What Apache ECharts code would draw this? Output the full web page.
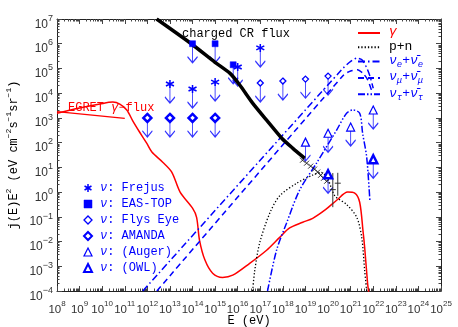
<!DOCTYPE html>
<html>
<head>
<meta charset="utf-8">
<script src="https://cdn.jsdelivr.net/npm/echarts@6/dist/echarts.min.js"></script>
<style>
html, body { margin: 0; padding: 0; background: #fff; }
#chart { width: 458px; height: 327px; }
</style>
</head>
<body>
<div id="chart"></div>
<script>
// all points are [log10 E (eV), log10 j(E)E^2]
const crFlux = [[12.41, 7.0], [13.96, 5.99], [14.98, 5.26], [15.65, 4.81], [16.09, 4.33],
  [16.66, 3.6], [17.28, 2.91], [17.95, 2.18], [18.43, 1.78], [18.96, 1.37]];
const crPoints = [[18.87, 1.29], [19.05, 1.17], [19.23, 1.05], [19.4, 0.93],
  [19.54, 0.81], [19.67, 0.68], [19.8, 0.56], [19.94, 0.44]];
// [logE, low, high, centre]
const crErrBars = [[20.21, -0.61, 0.77, 0.1], [20.43, -0.15, 0.78, 0.36]];

const gammaFlux = [[8.0, 3.19], [9.0, 3.4], [9.9, 3.56], [10.47, 3.64], [10.78, 3.56],
  [11.09, 3.32], [11.36, 2.87], [11.64, 2.45], [11.97, 1.98], [12.2, 1.62], [12.68, 1.21],
  [13.08, 0.81], [13.45, 0.0], [14.0, -0.65], [14.18, -1.02], [14.31, -1.95], [14.55, -2.75],
  [14.89, -3.28], [15.33, -3.45], [15.78, -3.36], [16.53, -2.88], [17.28, -2.35],
  [17.86, -1.83], [18.3, -1.45], [18.88, -1.22], [19.32, -1.06], [19.9, -0.7], [20.38, -0.33],
  [20.87, 0.0], [21.18, -0.04], [21.4, -0.41], [21.55, -1.6], [21.62, -2.23], [21.75, -3.69],
  [21.8, -4.05]];
const egretFlux = [[8.0, 3.25], [11.0, 2.98]];
const pnFlux = [[16.66, -4.0], [16.75, -3.2], [16.97, -2.07], [17.42, -0.85], [17.86, -0.15],
  [18.6, 0.35], [19.3, 0.68], [19.7, 0.8], [20.0, 0.5], [20.3, -0.15], [20.82, -0.5],
  [21.27, -1.02], [21.49, -1.83], [21.62, -3.16], [21.71, -4.0]];
const nueFlux = [[11.8, -4.0], [20.6, 4.95], [20.95, 5.25], [21.27, 5.42], [21.5, 5.35],
  [21.7, 5.05], [21.85, 4.7], [22.0, 4.2]];
const numuFlux = [[12.42, -4.0], [20.7, 4.75], [21.0, 4.9], [21.3, 4.95], [21.55, 4.8],
  [21.75, 4.55], [21.95, 4.05]];
const nutauFlux = [[17.32, -4.0], [17.72, -2.35], [18.16, -1.26], [18.74, 0.08], [19.49, 1.17],
  [20.38, 2.51], [20.82, 3.19], [21.09, 3.32], [21.4, 3.19], [21.53, 2.38], [21.71, 1.41],
  [21.85, -0.33]];

// neutrino upper limits
const frejusLim = [[13, 4.37], [14, 4.17], [15, 4.45], [16, 5.06], [17, 5.83]];
const eastopLim = [[14, 6.0], [15, 6.0], [15.8, 5.15]];
const flysEyeLim = [[17, 4.41], [18, 4.49], [19, 4.57], [20, 4.69]];
const amandaLim = [[12, 3.0], [13, 3.0], [14, 3.0], [15, 3.0]];
const augerLim = [[19, 2.02], [20, 2.38], [21, 2.63], [22, 3.32]];
const owlLim = [[20, 0.72], [22, 1.33]];

const xExp = [8, 9, 10, 11, 12, 13, 14, 15, 16, 17, 18, 19, 20, 21, 22, 23, 24, 25];
const yExp = [-4, -3, -2, -1, 0, 1, 2, 3, 4, 5, 6, 7];

const BLUE = '#0000ff';
const MONO = 'Liberation Mono';
const SANS = 'Liberation Sans';

const toPts = arr => arr.map(p => [Math.pow(10, p[0]), Math.pow(10, p[1])]);
// the end values are nudged a hair inside the extent so they are not dropped
const majors = exps => exps.map((e, i) => Math.pow(10, e) * (i === exps.length - 1 ? 0.99999 : i === 0 ? 1.00001 : 1));
const minors = exps => {
  const out = [];
  exps.slice(0, -1).forEach(e => {
    for (let k = 2; k <= 9; k++) out.push(k * Math.pow(10, e));
  });
  return out;
};

const supLabel = v => {
  const e = Math.round(Math.log10(v));
  return '{b|10}{s|' + (e < 0 ? '\u2212' + (-e) : e) + '}';
};

function makeAxis(kind, pos, major) {
  const exps = kind === 'x' ? xExp : yExp;
  const isMain = major && (pos === 'bottom' || pos === 'left');
  const ax = {
    type: 'log',
    min: Math.pow(10, exps[0]),
    max: Math.pow(10, exps[exps.length - 1]),
    position: pos,
    axisLine: { show: major, onZero: false, lineStyle: { color: '#222', width: 1 } },
    axisTick: {
      show: true, inside: true, length: major ? 5 : 2.5,
      customValues: major ? majors(exps) : minors(exps),
      lineStyle: { color: '#444', width: 1 }
    },
    minorTick: { show: false },
    splitLine: { show: false },
    axisLabel: { show: false }
  };
  if (isMain) {
    if (kind === 'x') {
      ax.axisLabel = {
        show: true, customValues: majors(exps), margin: 9, formatter: supLabel,
        showMinLabel: true, showMaxLabel: true, hideOverlap: false,
        rich: {
          b: { fontFamily: SANS, fontSize: 11.5, color: '#333', lineHeight: 16, verticalAlign: 'bottom' },
          s: { fontFamily: SANS, fontSize: 8, color: '#333', lineHeight: 16, verticalAlign: 'top' }
        }
      };
      ax.name = 'E (eV)';
      ax.nameLocation = 'middle';
      ax.nameGap = 24;
      ax.nameMoveOverlap = false;
      ax.nameTextStyle = { fontFamily: MONO, fontSize: 12, color: '#000' };
    } else {
      ax.axisLabel = {
        show: true, customValues: majors(exps), margin: 4, formatter: supLabel,
        showMinLabel: true, showMaxLabel: true, hideOverlap: false,
        padding: [6, 0, 0, 0],
        rich: {
          b: { fontFamily: SANS, fontSize: 12, color: '#333', lineHeight: 16.5, verticalAlign: 'bottom' },
          s: { fontFamily: SANS, fontSize: 9, color: '#333', lineHeight: 16.5, verticalAlign: 'top' }
        }
      };
      ax.name = '{m|j(E)E}{p|2}{m| (eV cm}{p|\u22122}{m|s}{p|\u22121}{m|sr}{p|\u22121}{m|)}';
      ax.nameLocation = 'middle';
      ax.nameRotate = 90;
      ax.nameGap = 37;
      ax.nameMoveOverlap = false;
      ax.nameTextStyle = {
        rich: {
          m: { fontFamily: MONO, fontSize: 12, color: '#000', lineHeight: 15, verticalAlign: 'bottom' },
          p: { fontFamily: MONO, fontSize: 8, color: '#000', lineHeight: 15, verticalAlign: 'top' }
        }
      };
    }
  }
  return ax;
}

const asterisk = 'path://M5,0L5,10M0.67,2.5L9.33,7.5M0.67,7.5L9.33,2.5';
const arrowDown = 'path://M5,0L5,19M0,13L5,19L10,13';
const crossX = 'path://M0,0L10,10M10,0L0,10';

// marker look for each experiment
const limitSeries = [
  { name: 'Frejus', data: frejusLim, symbol: asterisk, size: 8, fill: 'transparent', bw: 1.5 },
  { name: 'EAS-TOP', data: eastopLim, symbol: 'rect', size: 6, fill: BLUE, bw: 0.5 },
  { name: 'Flys Eye', data: flysEyeLim, symbol: 'diamond', size: 6, fill: '#fff', bw: 1.3 },
  { name: 'AMANDA', data: amandaLim, symbol: 'diamond', size: 8, fill: '#fff', bw: 2.5 },
  { name: '(Auger)', data: augerLim, symbol: 'triangle', size: 8, fill: '#fff', bw: 1.2 },
  { name: '(OWL)', data: owlLim, symbol: 'triangle', size: 8, fill: '#fff', bw: 2.5 }
];

const lineLabels = {
  gamma: '{g|\u03b3}',
  pn: '{k|p+n}',
  nue: '{n|\u03bd}{sub|e}{t|+}{n|\u03bd\u0304}{sub|e}',
  numu: '{n|\u03bd}{sub|\u03bc}{t|+}{n|\u03bd\u0304}{sub|\u03bc}',
  nutau: '{n|\u03bd}{sub|\u03c4}{t|+}{n|\u03bd\u0304}{sub|\u03c4}'
};

const chart = echarts.init(document.getElementById('chart'), null, { renderer: 'canvas' });

const series = [
  {
    name: 'arrows', type: 'scatter', silent: true, z: 2,
    data: toPts([].concat(frejusLim, eastopLim, flysEyeLim, amandaLim, augerLim, owlLim)),
    symbol: arrowDown, symbolSize: [10, 19], symbolOffset: [0, 9.5],
    itemStyle: { color: 'transparent', borderColor: BLUE, borderWidth: 1.2 }
  },
  {
    name: 'gamma', type: 'line', data: toPts(gammaFlux), smooth: 0.3, symbol: 'none', z: 3,
    lineStyle: { color: '#ff0000', width: 1.5 }, itemStyle: { color: '#ff0000' }
  },
  {
    name: 'egret', type: 'line', data: toPts(egretFlux), symbol: 'none', z: 3,
    lineStyle: { color: '#ff0000', width: 1.3 }
  },
  {
    name: 'pn', type: 'line', data: toPts(pnFlux), smooth: 0.3, symbol: 'none', z: 3,
    lineStyle: { color: '#000', width: 1.3, type: [1.3, 2] }, itemStyle: { color: '#000' }
  },
  {
    name: 'nue', type: 'line', data: toPts(nueFlux), smooth: 0.2, symbol: 'none', z: 3,
    lineStyle: { color: BLUE, width: 1.5, type: [7, 3, 1.5, 3] }, itemStyle: { color: BLUE }
  },
  {
    name: 'numu', type: 'line', data: toPts(numuFlux), smooth: 0.2, symbol: 'none', z: 3,
    lineStyle: { color: BLUE, width: 1.5, type: [6, 4] }, itemStyle: { color: BLUE }
  },
  {
    name: 'nutau', type: 'line', data: toPts(nutauFlux), smooth: 0.3, symbol: 'none', z: 3,
    lineStyle: { color: BLUE, width: 1.5, type: [7, 2, 1.5, 2, 1.5, 2] }, itemStyle: { color: BLUE }
  },
  {
    name: 'cr', type: 'line', data: toPts(crFlux), smooth: 0.2, symbol: 'none', z: 4,
    lineStyle: { color: '#000', width: 3.5 }
  },
  {
    name: 'crdata', type: 'scatter', data: toPts(crPoints), symbol: crossX, symbolSize: 5, z: 4,
    itemStyle: { color: 'transparent', borderColor: '#000', borderWidth: 1 }
  },
  {
    name: 'errbars', type: 'custom', z: 4,
    data: crErrBars.map(d => [Math.pow(10, d[0]), Math.pow(10, d[1]), Math.pow(10, d[2]), Math.pow(10, d[3])]),
    renderItem: (params, api) => {
      const top = api.coord([api.value(0), api.value(2)]);
      const bot = api.coord([api.value(0), api.value(1)]);
      const mid = api.coord([api.value(0), api.value(3)]);
      return {
        type: 'group',
        children: [
          { type: 'line', shape: { x1: top[0], y1: top[1], x2: bot[0], y2: bot[1] }, style: { stroke: '#333', lineWidth: 1 } },
          { type: 'line', shape: { x1: mid[0] - 3, y1: mid[1], x2: mid[0] + 3, y2: mid[1] }, style: { stroke: '#333', lineWidth: 1 } }
        ]
      };
    }
  }
];

limitSeries.forEach(s => {
  series.push({
    name: s.name, type: 'scatter', data: toPts(s.data), z: 5,
    symbol: s.symbol, symbolSize: s.size,
    itemStyle: { color: s.fill, borderColor: BLUE, borderWidth: s.bw, opacity: 1 }
  });
});

const option = {
  backgroundColor: '#fff',
  animation: false,
  grid: { left: 57, right: 17, top: 19, bottom: 36, outerBoundsMode: 'none', containLabel: false },
  xAxis: [makeAxis('x', 'bottom', true), makeAxis('x', 'bottom', false),
    makeAxis('x', 'top', true), makeAxis('x', 'top', false)],
  yAxis: [makeAxis('y', 'left', true), makeAxis('y', 'left', false),
    makeAxis('y', 'right', true), makeAxis('y', 'right', false)],
  legend: [
    {
      orient: 'vertical', left: 83, top: 182, padding: 0,
      itemWidth: 8, itemHeight: 8, itemGap: 4.0,
      selectedMode: false,
      data: limitSeries.map(s => ({
        name: s.name, icon: s.symbol,
        itemStyle: { color: s.fill, borderColor: BLUE, borderWidth: Math.min(s.bw, 2) }
      })),
      formatter: name => '{i|\u03bd}{t|: ' + name + '}',
      textStyle: {
        padding: [0, 0, 0, 3],
        rich: {
          i: { fontFamily: MONO, fontSize: 12, fontStyle: 'italic', color: BLUE, lineHeight: 12 },
          t: { fontFamily: MONO, fontSize: 12, color: BLUE, lineHeight: 12 }
        }
      }
    },
    {
      orient: 'vertical', left: 357, top: 25.5, padding: 0,
      itemWidth: 22, itemHeight: 10, itemGap: 1.3,
      selectedMode: false,
      itemStyle: { opacity: 0, borderWidth: 0 },
      data: ['gamma', 'pn', 'nue', 'numu', 'nutau'],
      formatter: name => lineLabels[name],
      textStyle: {
        padding: [0, 0, 0, 4],
        rich: {
          g: { fontFamily: MONO, fontSize: 13, fontStyle: 'italic', color: '#ff0000', lineHeight: 15, verticalAlign: 'top' },
          k: { fontFamily: MONO, fontSize: 13, color: '#000', lineHeight: 15, verticalAlign: 'top' },
          n: { fontFamily: MONO, fontSize: 13, fontStyle: 'italic', color: BLUE, lineHeight: 15, verticalAlign: 'top' },
          t: { fontFamily: MONO, fontSize: 13, color: BLUE, lineHeight: 15, verticalAlign: 'top' },
          sub: { fontFamily: MONO, fontSize: 9, fontStyle: 'italic', color: BLUE, lineHeight: 15, verticalAlign: 'bottom' }
        }
      }
    }
  ],
  graphic: [
    {
      type: 'text', x: 182, y: 34, silent: true,
      style: { text: 'charged CR flux', font: '12px ' + MONO, fill: '#000', verticalAlign: 'middle' }
    },
    {
      type: 'text', x: 68, y: 108, silent: true,
      style: {
        text: '{a|EGRET }{g|\u03b3}{a|\u2212flux}', verticalAlign: 'middle',
        rich: {
          a: { fontFamily: MONO, fontSize: 12, fill: '#ff0000' },
          g: { fontFamily: MONO, fontSize: 12, fontStyle: 'italic', fill: '#ff0000' }
        }
      }
    }
  ],
  series: series
};

chart.setOption(option);
</script>
</body>
</html>
